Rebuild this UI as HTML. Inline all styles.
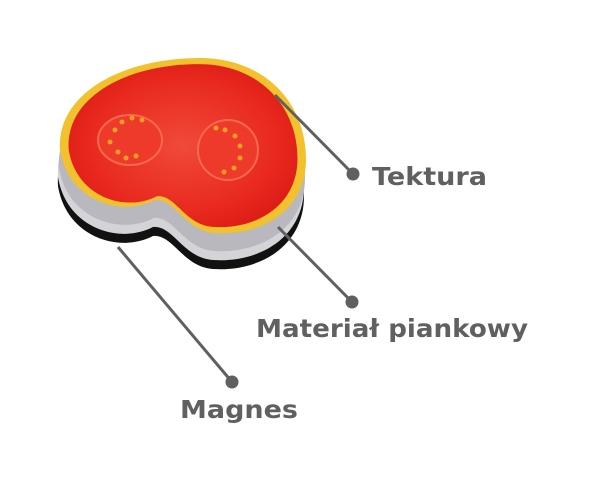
<!DOCTYPE html>
<html><head><meta charset="utf-8"><style>
html,body{margin:0;padding:0;background:#fff;width:600px;height:500px;overflow:hidden}
</style></head><body>
<svg width="600" height="500" viewBox="0 0 600 500" xmlns="http://www.w3.org/2000/svg">
<defs>
<path id="sh" d="M155 200 C120 218 68 200 60 150 C56 95 120 58 200 58 C262 58 306 100 306 160 C306 210 262 236 215 233 C185 231 175 198 155 200 Z"/>
<radialGradient id="rg" cx="0.5" cy="0.5" r="0.6">
<stop offset="0" stop-color="#f04a3a"/><stop offset="0.7" stop-color="#e8281e"/><stop offset="1" stop-color="#d81a14"/>
</radialGradient>
</defs>
<use href="#sh" transform="translate(-2,36)" fill="#111"/>
<use href="#sh" transform="translate(-2,27)" fill="#d4d4d8"/>
<use href="#sh" transform="translate(-1,18)" fill="#b8b8be"/>
<use href="#sh" fill="#f2c12e"/>
<use href="#sh" transform="translate(184,146) scale(0.93) translate(-184,-146)" fill="url(#rg)"/>
<ellipse cx="130" cy="140" rx="32" ry="25" fill="#ee3a2a" stroke="#f46a4a" stroke-width="2"/>
<ellipse cx="228" cy="150" rx="30" ry="30" fill="#ee3a2a" stroke="#f46a4a" stroke-width="2"/>
<g fill="#f5a020">
<circle cx="115" cy="130" r="2.5"/><circle cx="122" cy="122" r="2.5"/><circle cx="132" cy="118" r="2.5"/><circle cx="142" cy="120" r="2.5"/><circle cx="110" cy="142" r="2.5"/><circle cx="118" cy="152" r="2.5"/><circle cx="126" cy="158" r="2.5"/><circle cx="136" cy="156" r="2.5"/>
<circle cx="225" cy="130" r="2.5"/><circle cx="235" cy="136" r="2.5"/><circle cx="240" cy="146" r="2.5"/><circle cx="240" cy="158" r="2.5"/><circle cx="234" cy="168" r="2.5"/><circle cx="224" cy="172" r="2.5"/><circle cx="216" cy="128" r="2.5"/>
</g>
<g stroke="#606060" stroke-width="3" fill="#606060">
<line x1="275" y1="95" x2="353" y2="174"/><circle cx="353" cy="174" r="6.5" stroke="none"/>
<line x1="278" y1="227" x2="352" y2="302"/><circle cx="352" cy="302" r="6.5" stroke="none"/>
<line x1="118" y1="247" x2="232" y2="382"/><circle cx="232" cy="382" r="6.5" stroke="none"/>
</g>
<g font-family="DejaVu Sans, sans-serif" font-weight="bold" font-size="25" fill="#606060">
<text x="372" y="185" textLength="115" lengthAdjust="spacingAndGlyphs">Tektura</text>
<text x="256" y="337" textLength="272" lengthAdjust="spacingAndGlyphs">Materiał piankowy</text>
<text x="180" y="418" textLength="118" lengthAdjust="spacingAndGlyphs">Magnes</text>
</g>
</svg>
</body></html>
